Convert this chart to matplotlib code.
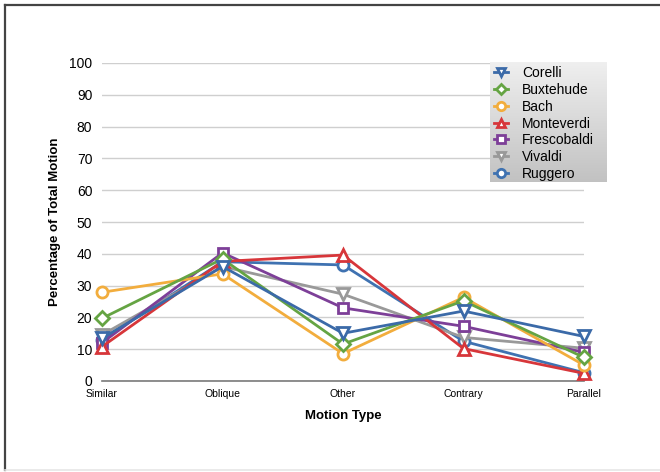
import numpy as np
import matplotlib
matplotlib.use("Agg")
import matplotlib.pyplot as plt
from matplotlib.lines import Line2D

plt.rcParams['font.family'] = ['Liberation Sans', 'DejaVu Sans']

motion_types = ["Similar", "Oblique", "Other", "Contrary", "Parallel"]

corelli = [13.4, 36.0, 15.0, 22.0, 14.0]
buxtehude = [19.7, 38.4, 11.6, 25.2, 7.4]
bach = [27.9, 33.7, 8.6, 26.3, 5.0]
monteverdi = [10.8, 37.6, 39.6, 10.2, 2.4]
frescobaldi = [12.0, 40.3, 23.0, 17.2, 9.0]
vivaldi = [14.5, 36.0, 27.3, 13.7, 10.3]
ruggero = [13.0, 37.5, 36.5, 12.5, 2.6]

series = [
    ("Corelli", corelli, "#3b6aa8", "v", 8.5),
    ("Buxtehude", buxtehude, "#65a443", "D", 7),
    ("Bach", bach, "#f2ad3d", "o", 8),
    ("Monteverdi", monteverdi, "#d7363a", "^", 8.5),
    ("Frescobaldi", frescobaldi, "#7d3f98", "s", 7.5),
    ("Vivaldi", vivaldi, "#999999", "v", 8.5),
    ("Ruggero", ruggero, "#3f72b1", "o", 8),
]

fig = plt.figure(figsize=(6.6, 4.72), dpi=100)

# outer frame: dark top/left edges, faint bottom edge
fig.add_artist(Line2D([5/660, 1.0], [1 - 5/472, 1 - 5/472], color="#444444", lw=1.6, transform=fig.transFigure))
fig.add_artist(Line2D([5/660, 5/660], [1 - 5/472, 2/472], color="#444444", lw=1.6, transform=fig.transFigure))
fig.add_artist(Line2D([5/660, 1.0], [2/472, 2/472], color="#e6e6e6", lw=1.2, transform=fig.transFigure))

ax = fig.add_axes([102/660, 1 - 381/472, (584 - 102)/660, (381 - 63)/472])
x = np.arange(len(motion_types))

# first series ends up on top
n = len(series)
for i in range(n - 1, -1, -1):
    name, vals, col, mk, ms = series[i]
    ax.plot(x, vals, color=col, lw=2.0, marker=mk, ms=ms, mfc="white",
            mec=col, mew=2.0, clip_on=False, zorder=3 + (n - i) * 0.1)

ax.set_xlim(0, 4)
ax.set_ylim(0, 100)
ax.set_yticks(range(0, 101, 10))
ax.set_xticks(x)
ax.set_xticklabels(motion_types, fontsize=7.5)
ax.tick_params(axis="y", labelsize=10, length=0, pad=7)
ax.tick_params(axis="x", length=0, pad=6)
ax.grid(axis="y", color="#cfcfcf", lw=1.0)
ax.set_axisbelow(True)
for s in ["top", "right", "left"]:
    ax.spines[s].set_visible(False)
ax.spines["bottom"].set_color("#7a7a7a")
ax.spines["bottom"].set_linewidth(1.2)

ax.set_xlabel("Motion Type", fontsize=9.5, fontweight="bold", labelpad=8)
ax.set_ylabel("Percentage of Total Motion", fontsize=9.5, fontweight="bold", labelpad=6)

# legend with a vertical gray gradient backdrop
lx0, ly0, lx1, ly1 = 490/660, 1 - 182/472, 607/660, 1 - 62/472
bg = fig.add_axes([lx0, ly0, lx1 - lx0, ly1 - ly0], zorder=5)
grad = np.linspace(0.94, 0.76, 256).reshape(-1, 1)
bg.imshow(np.dstack([grad, grad, grad]), aspect="auto", extent=[0, 1, 0, 1])
bg.set_axis_off()

handles = [Line2D([0], [0], color=c, lw=2.0, marker=m, ms=ms * 0.75, mfc="white", mec=c, mew=2.0)
           for (_, _, c, m, ms) in series]
labels = [s[0] for s in series]
leg = bg.legend(handles, labels, loc="upper left", bbox_to_anchor=(0.0, 1.0),
                frameon=False, fontsize=10, handlelength=1.0, handletextpad=1.0,
                labelspacing=0.2, borderaxespad=0.0, borderpad=0.3)

fig.savefig("out.png", dpi=100)
